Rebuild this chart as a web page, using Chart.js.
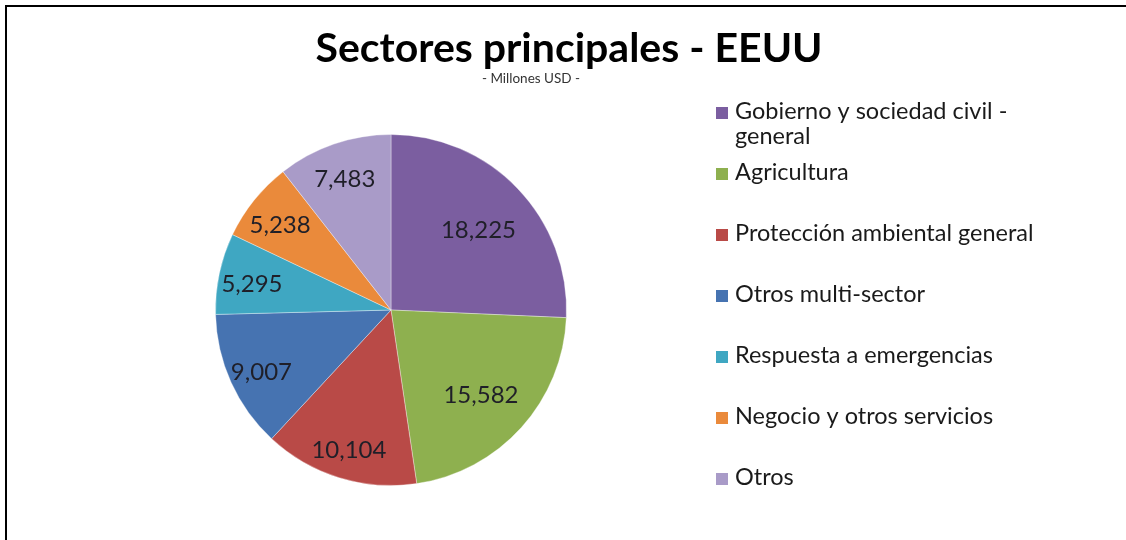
<!DOCTYPE html>
<html><head><meta charset="utf-8">
<script src="https://cdn.jsdelivr.net/npm/chart.js@4/dist/chart.umd.min.js"></script>
<style>html,body{margin:0;padding:0;background:#fff;overflow:hidden}</style>
</head><body>
<canvas id="c" width="1126" height="540" style="display:block;width:1126px;height:540px"></canvas>
<script>
const categories = [["Gobierno y sociedad civil -", "general"], "Agricultura", "Protección ambiental general", "Otros multi-sector", "Respuesta a emergencias", "Negocio y otros servicios", "Otros"];
const values = [18225, 15582, 10104, 9007, 5295, 5238, 7483];
const colors = ["#7b5ea0", "#8eb04f", "#b94a47", "#4673b1", "#3fa7c2", "#ea8a3b", "#a99bc8"];
const titleText = "Sectores principales - EEUU";
const subtitleText = "- Millones USD -";
const FONT = "Lato, 'Open Sans', sans-serif";

const overlay = {
  id: 'overlay',
  afterDraw(chart) {
    const ctx = chart.ctx;
    ctx.save();
    // frame
    ctx.fillStyle = '#000';
    ctx.fillRect(5, 5, 1121, 2);
    ctx.fillRect(5, 5, 2, 535);
    // title
    ctx.textAlign = 'center';
    ctx.textBaseline = 'alphabetic';
    ctx.fillStyle = '#000';
    ctx.font = "bold 41px " + FONT;
    ctx.fillText(titleText, 569, 62);
    ctx.font = "13.5px " + FONT;
    ctx.fillStyle = '#333';
    ctx.fillText(subtitleText, 531, 83);
    // data labels
    const meta = chart.getDatasetMeta(0);
    ctx.font = "24px " + FONT;
    ctx.fillStyle = '#1f1f28';
    ctx.textBaseline = 'middle';
    meta.data.forEach((arc, i) => {
      const p = arc.getProps(['x', 'y', 'startAngle', 'endAngle', 'outerRadius'], true);
      const span = p.endAngle - p.startAngle;
      const mid = (p.startAngle + p.endAngle) / 2;
      const r = p.outerRadius * (span > 1.2 ? 0.69 : 0.81);
      ctx.fillText(values[i].toLocaleString('en-US'), p.x + Math.cos(mid) * r, p.y + Math.sin(mid) * r + 4);
    });
    // legend
    const labels = chart.data.labels;
    const bg = chart.data.datasets[0].backgroundColor;
    ctx.textAlign = 'left';
    ctx.textBaseline = 'alphabetic';
    ctx.font = "23.5px " + FONT;
    labels.forEach((lab, i) => {
      const base = 119 + i * 61;
      ctx.fillStyle = bg[i];
      ctx.fillRect(716, base - 12, 12, 12);
      ctx.fillStyle = '#1a1a1a';
      const lines = Array.isArray(lab) ? lab : [lab];
      lines.forEach((ln, j) => ctx.fillText(ln, 735, base + j * 25));
    });
    ctx.restore();
  }
};

new Chart(document.getElementById('c'), {
  type: 'pie',
  data: {
    labels: categories,
    datasets: [{
      data: values,
      backgroundColor: colors,
      borderColor: 'rgba(255,255,255,0.35)',
      borderWidth: 1
    }]
  },
  options: {
    responsive: false,
    devicePixelRatio: 1,
    animation: false,
    layout: { padding: { left: 215, right: 559, top: 134, bottom: 54 } },
    plugins: { legend: { display: false }, tooltip: { enabled: false }, title: { display: false } }
  },
  plugins: [overlay]
});
</script>
</body></html>
